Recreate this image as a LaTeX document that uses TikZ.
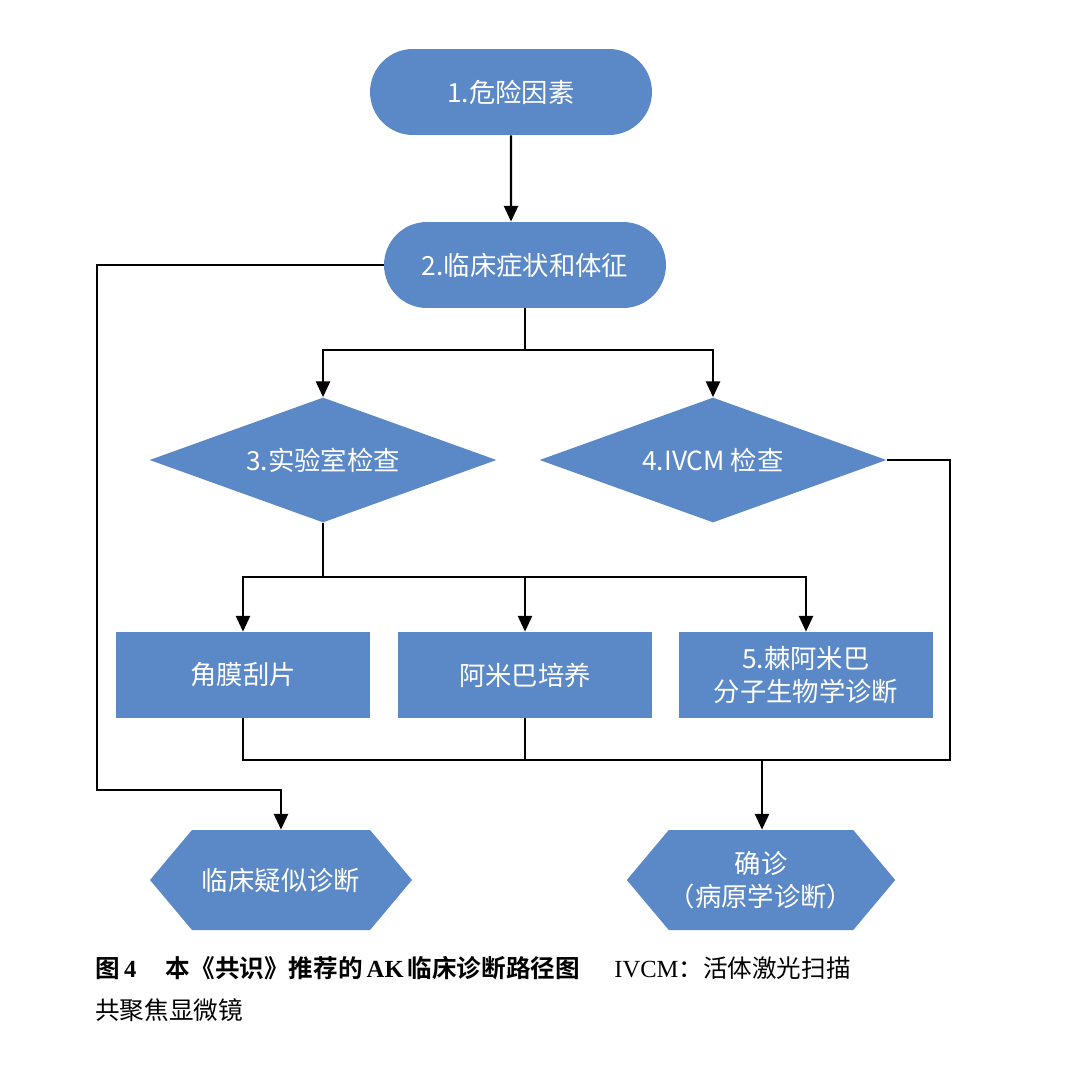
\documentclass[tikz,border=0pt]{standalone}
\usepackage{fontspec}
\setmainfont{Liberation Serif}
\newfontfamily\cjk{Noto Sans CJK SC}
\newfontfamily\cjkb{Noto Sans CJK SC Bold}
\usetikzlibrary{arrows.meta}
\usetikzlibrary{shapes.geometric}
\usetikzlibrary{shapes.misc}
\usetikzlibrary{shapes.symbols}
\definecolor{boxblue}{HTML}{5B88C6}

\tikzset{
box/.style={fill=boxblue, draw=none, text=white, font=\fontsize{15}{19}\selectfont\cjk, align=center, inner sep=0pt},
pill/.style={box, rounded rectangle, minimum width=5.64cm, minimum height=1.72cm},
dia/.style={box, diamond, aspect=2.78, minimum width=6.94cm, minimum height=2.5cm},
rect/.style={box, rectangle, minimum width=5.08cm, minimum height=1.72cm},
hexa/.style={box, signal, signal to=west and east, signal pointer angle=100, minimum width=5.24cm, minimum height=2cm},
line/.style={line width=1.3pt, black},
arr/.style={line, -{Triangle[length=9pt, width=8pt]}}
}

\begin{document}
\begin{tikzpicture}[x=0.02cm, y=0.02cm]
\useasboundingbox (0,0) rectangle (1080,-1091);
\fill[white] (0,0) rectangle (1080,-1091);

\node[pill] (risk) at (511,-92) {1.危险因素};
\node[pill] (clin) at (525,-265) {2.临床症状和体征};
\node[dia] (lab) at (323,-460) {3.实验室检查};
\node[dia] (ivcm) at (713,-460) {4.IVCM 检查};
\node[rect] (scrape) at (243,-675) {角膜刮片};
\node[rect] (culture) at (525,-675) {阿米巴培养};
\node[rect] (pcr) at (806,-675) {5.棘阿米巴\\分子生物学诊断};
\node[hexa] (susp) at (281,-880) {临床疑似诊断};
\node[hexa] (conf) at (761,-880) {确诊\\（病原学诊断）};

\coordinate (s1) at (525,-350);
\coordinate (s2) at (323,-577);
\coordinate (s3) at (762,-760);

\draw[arr] (risk) -- (risk |- clin.north);
\draw[line] (clin.south -| s1) -- (s1);
\draw[arr] (s1) -| (lab.north);
\draw[arr] (s1) -| (ivcm.north);
\draw[arr] (clin.west) -| (97,-790) -| (susp.north);
\draw[line] (lab.south) -- (s2);
\draw[arr] (s2) -| (scrape.north);
\draw[arr] (s2) -| (culture.north);
\draw[arr] (s2) -| (pcr.north);
\draw[line] (scrape.south) |- (s3);
\draw[line] (culture.south) -- (culture.south |- s3);
\draw[line] (ivcm.east) -| (950,-760) -- (s3);
\draw[arr] (s3) -- (conf.north -| s3);

\node[anchor=west, inner sep=0pt, font=\fontsize{14}{18}\selectfont] (cap1) at (95,-968)
 {{\cjkb 图}\,\textbf{4}\hspace{1.2em}{\cjkb 本《共识》推荐的}\,\textbf{AK}\,{\cjkb 临床诊断路径图}\hspace{1.4em}IVCM{\cjk ：活体激光扫描}};
\node[anchor=west, inner sep=0pt, font=\fontsize{14}{18}\selectfont\cjk] (cap2) at (95,-1010) {共聚焦显微镜};
\end{tikzpicture}
\end{document}
